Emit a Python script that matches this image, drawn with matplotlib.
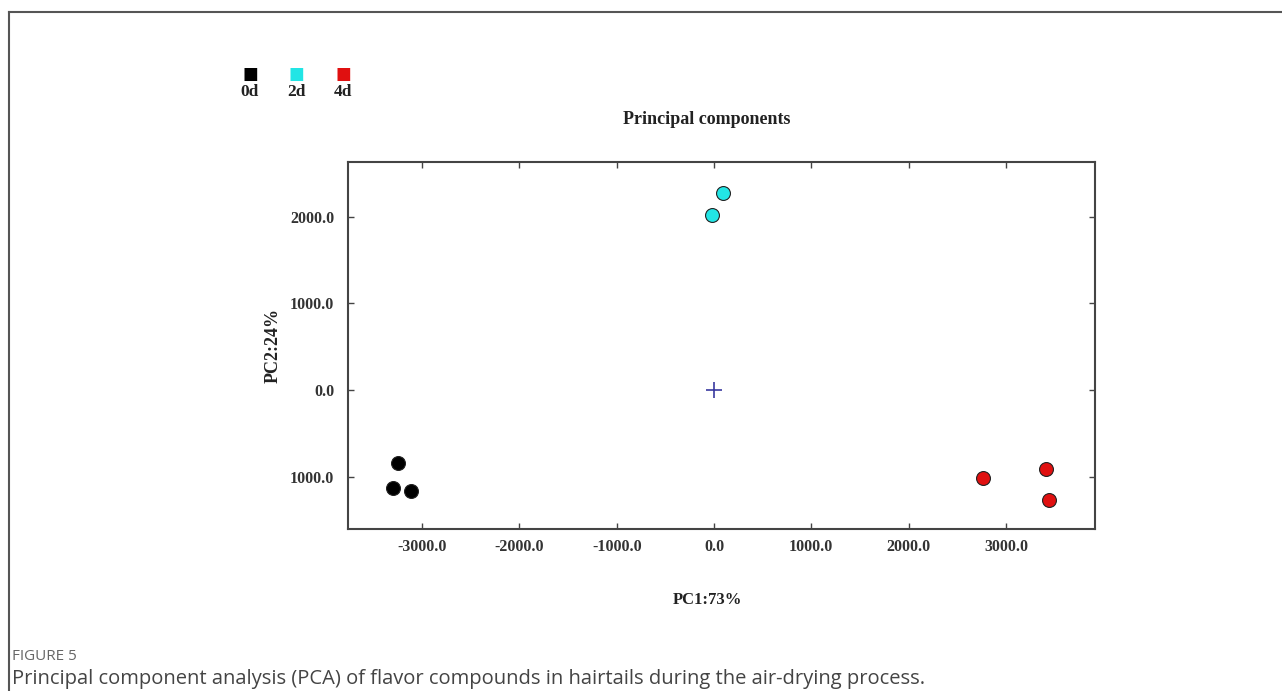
import matplotlib.pyplot as plt
from matplotlib.lines import Line2D

# PCA scores
groups = ['0d', '2d', '4d']
colors = ['#000000', '#22e5e5', '#e01010']
pc1 = {
    '0d': [-3248, -3299, -3114],
    '2d': [-21, 92],
    '4d': [2765, 3412, 3443],
}
pc2 = {
    '0d': [-842, -1130, -1165],
    '2d': [2018, 2272],
    '4d': [-1015, -911, -1269],
}
xticks = [-3000, -2000, -1000, 0, 1000, 2000, 3000]
xtick_labels = ['-3000.0', '-2000.0', '-1000.0', '0.0', '1000.0', '2000.0', '3000.0']
yticks = [-1000, 0, 1000, 2000]
ytick_labels = ['1000.0', '0.0', '1000.0', '2000.0']   # minus sign is missing in the original

serif = 'Liberation Serif'
W, H = 1282, 691
fig = plt.figure(figsize=(W / 100, H / 100), dpi=100)

# outer frame: only top and left edges
fig.add_artist(Line2D([9 / W, 9 / W], [0, 1 - 12 / H], color='#555555', lw=1.5))
fig.add_artist(Line2D([9 / W, 1], [1 - 12 / H, 1 - 12 / H], color='#555555', lw=1.5))

ax = fig.add_axes([348 / W, 1 - 529 / H, (1095 - 348) / W, (529 - 162) / H])
for g, c in zip(groups, colors):
    ax.scatter(pc1[g], pc2[g], s=100, color=c, edgecolor='#222222', linewidth=0.8, zorder=3)
ax.plot([0], [0], marker='+', ms=11, color='#3a3aa0', mew=1.2, zorder=3)

ax.set_xlim(-3762, 3916)
ax.set_ylim(-1603, 2630)
ax.set_xticks(xticks)
ax.set_xticklabels(xtick_labels)
ax.set_yticks(yticks)
ax.set_yticklabels(ytick_labels)
ax.tick_params(direction='in', length=4, width=1, color='#444444', top=True, right=True,
               labelsize=11.5)
ax.tick_params(axis='x', pad=7)
ax.tick_params(axis='y', pad=10)
for lbl in ax.get_xticklabels() + ax.get_yticklabels():
    lbl.set_fontfamily(serif)
    lbl.set_fontweight('bold')
    lbl.set_color('#333333')
for sp in ax.spines.values():
    sp.set_color('#444444')
    sp.set_linewidth(1.5)

fig.text(707 / W, 1 - 120 / H, 'Principal components', ha='center', va='center',
         family=serif, weight='bold', fontsize=13, color='#222222')
fig.text(707 / W, 1 - 600 / H, 'PC1:73%', ha='center', va='center',
         family=serif, weight='bold', fontsize=12, color='#222222')
fig.text(273 / W, 1 - 345 / H, 'PC2:24%', ha='center', va='center', rotation=90,
         family=serif, weight='bold', fontsize=13, color='#222222')

# legend squares with labels underneath
for i, (g, c) in enumerate(zip(groups, colors)):
    x = (250 + 46.5 * i) / W
    fig.text(x, 1 - 74 / H, '\u25A0', ha='center', va='center', fontsize=12,
             color=c, family='DejaVu Sans')
    fig.text(x, 1 - 92 / H, g, ha='center', va='center', family=serif,
             weight='bold', fontsize=12.5, color='#222222')

fig.text(12 / W, 1 - 657 / H, 'FIGURE 5', ha='left', va='center', family='Open Sans',
         fontsize=11, color='#666666')
fig.text(12 / W, 1 - 679 / H,
         'Principal component analysis (PCA) of flavor compounds in hairtails during the air-drying process.',
         ha='left', va='center', family='Open Sans', fontsize=14.5, color='#444444')

fig.savefig('out.png', dpi=100)
